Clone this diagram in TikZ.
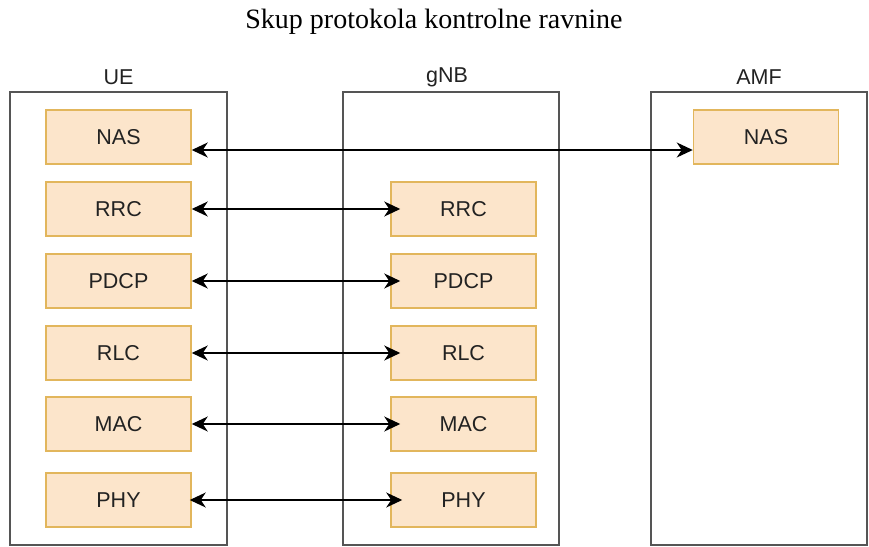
\documentclass[tikz,border=0pt]{standalone}
\usepackage{fontspec}
\setmainfont{Liberation Serif}
\setsansfont{Liberation Sans}
\usetikzlibrary{arrows.meta,calc}
\definecolor{boxfill}{HTML}{FCE5CB}
\definecolor{boxline}{HTML}{E2B65C}
\definecolor{frameline}{HTML}{555555}
\definecolor{txt}{HTML}{222222}
\tikzset{
  layer/.style={draw=boxline, fill=boxfill, line width=1.5pt, minimum width=145pt, minimum height=54pt, inner sep=0pt, text=txt, font=\sffamily\fontsize{21.5}{26}\selectfont},
  frame/.style={draw=frameline, line width=2pt, inner sep=0pt},
  framelabel/.style={font=\sffamily\fontsize{21.5}{26}\selectfont, text=txt, inner sep=0pt},
  tipx/.tip={Stealth[length=16pt,width=15pt,inset=5pt]},
  link/.style={tipx-tipx, line width=1.5pt, black}
}
\begin{document}
\begin{tikzpicture}[x=1pt,y=-1pt]
\useasboundingbox (0,0) rectangle (869,546);
\node[font=\rmfamily\fontsize{28}{32}\selectfont, inner sep=0pt] (title) at (434,22) {Skup protokola kontrolne ravnine};
% frames
\node[frame, minimum width=217pt, minimum height=453pt] (ue) at (118.5,318.5) {};
\node[frame, minimum width=216pt, minimum height=453pt] (gnb) at (451,318.5) {};
\node[frame, minimum width=216pt, minimum height=453pt] (amf) at (759,318.5) {};
\node[framelabel] (uelbl) at (118.5,77) {UE};
\node[framelabel] (gnblbl) at (447,77) {gNB};
\node[framelabel] (amflbl) at (759,77) {AMF};
% UE layers
\node[layer] (uNAS) at (118.5,137) {NAS};
\node[layer] (uRRC) at (118.5,209) {RRC};
\node[layer] (uPDCP) at (118.5,281) {PDCP};
\node[layer] (uRLC) at (118.5,353) {RLC};
\node[layer] (uMAC) at (118.5,424) {MAC};
\node[layer] (uPHY) at (118.5,500) {PHY};
% gNB layers
\node[layer] (gRRC) at (463.5,209) {RRC};
\node[layer] (gPDCP) at (463.5,281) {PDCP};
\node[layer] (gRLC) at (463.5,353) {RLC};
\node[layer] (gMAC) at (463.5,424) {MAC};
\node[layer] (gPHY) at (463.5,500) {PHY};
% AMF
\node[layer] (aNAS) at (766,137) {NAS};
% links
\draw[link] ($(uNAS.east)+(0,13)$) -- ($(aNAS.west)+(0,13)$);
\draw[link, shorten >=-10pt] (uRRC.east) -- (gRRC.west);
\draw[link, shorten >=-10pt] (uPDCP.east) -- (gPDCP.west);
\draw[link, shorten >=-10pt] (uRLC.east) -- (gRLC.west);
\draw[link, shorten >=-10pt] (uMAC.east) -- (gMAC.west);
\draw[link, shorten >=-12pt, shorten <=-2pt] (uPHY.east) -- (gPHY.west);
\end{tikzpicture}
\end{document}
